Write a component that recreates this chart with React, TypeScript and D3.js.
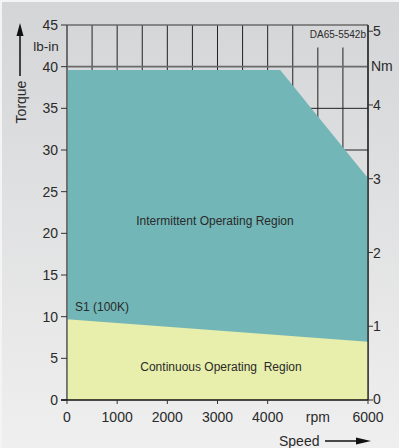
import * as d3 from "d3";

// Torque-speed curve, values
const speedTicks = [0, 1000, 2000, 3000, 4000, 6000];
const torqueTicks = [0, 5, 10, 15, 20, 25, 30, 35, 40, 45];
const nmTicks = [0, 1, 2, 3, 4, 5];
const gridSpeeds = d3.range(0, 6001, 500);
const gridTorques = [5, 10, 15, 20, 25, 30, 35];

const intermittentSpeed = [0, 4250, 6000];
const intermittentTorque = [39.6, 39.6, 26.6];
const continuousSpeed = [0, 6000];
const continuousTorque = [9.7, 7.0];

const LBIN_PER_NM = 8.8507;

export default function App() {
	const W = 399, H = 448;
	const font = "'Liberation Sans', Arial, sans-serif";

	const x = d3.scaleLinear().domain([0, 6000]).range([67, 368]);
	const y = d3.scaleLinear().domain([0, 45]).range([400, 25]);
	const yNm = (v: number) => y(v * LBIN_PER_NM);

	const line = d3.line<[number, number]>()
		.x(d => x(d[0]))
		.y(d => y(d[1]));

	const interPts: [number, number][] = [
		[0, 0],
		...intermittentSpeed.map((s, i) => [s, intermittentTorque[i]] as [number, number]),
		[6000, 0],
	];
	const contPts: [number, number][] = [
		[0, 0],
		...continuousSpeed.map((s, i) => [s, continuousTorque[i]] as [number, number]),
		[6000, 0],
	];

	return (
		<svg width={W} height={H} style={{ position: "absolute", left: 0, top: 0 }} fontFamily={font}>
			<defs>
				<linearGradient id="bg" x1="0" y1="0" x2="0" y2="1">
					<stop offset="0" stopColor="#d4d5d7" />
					<stop offset="1" stopColor="#efefef" />
				</linearGradient>
			</defs>
			<rect x={0} y={0} width={W} height={H} fill="#f4f4f4" />
			<rect x={2} y={2} width={W - 2} height={H - 2} fill="url(#bg)" />

			{/* grid (shows only where no region fill covers it) */}
			{gridSpeeds.map(s => (
				<line key={"gx" + s} x1={x(s)} x2={x(s)}
					y1={s >= 5000 && s < 6000 ? y(42.3) : y(45)} y2={y(0)}
					stroke="#222" strokeWidth={1} />
			))}
			{gridTorques.map(t => (
				<line key={"gy" + t} x1={x(0)} x2={x(6000)} y1={y(t)} y2={y(t)}
					stroke="#222" strokeWidth={1} />
			))}
			{[40, 45].map(t => (
				<line key={"gm" + t} x1={x(0)} x2={x(6000)} y1={y(t)} y2={y(t)}
					stroke="#6a6a6a" strokeWidth={1.6} />
			))}

			{/* regions */}
			<path d={line(interPts)!} fill="#72b6b7" />
			<path d={line(contPts)!} fill="#e8eeac" />

			{/* left axis */}
			<line x1={x(0)} x2={x(0)} y1={y(45)} y2={y(0)} stroke="#6a6a6a" strokeWidth={1.6} />
			{torqueTicks.map(t => (
				<g key={"ty" + t}>
					<line x1={x(0) - 6} x2={x(0)} y1={y(t)} y2={y(t)} stroke="#333" strokeWidth={1} />
					<text x={x(0) - 9} y={y(t)} dy="0.36em" textAnchor="end" fontSize={14} fill="#2a2a2a">{t}</text>
				</g>
			))}
			<text x={46} y={46} textAnchor="middle" dy="0.36em" fontSize={13.5} fill="#2a2a2a">lb-in</text>

			{/* right axis (Nm) */}
			<line x1={x(6000)} x2={x(6000)} y1={y(45)} y2={y(0)} stroke="#222" strokeWidth={1.3} />
			{nmTicks.map(t => (
				<g key={"nm" + t}>
					<line x1={x(6000)} x2={x(6000) + 5} y1={yNm(t)} y2={yNm(t)} stroke="#333" strokeWidth={1} />
					<text x={x(6000) + 5} y={yNm(t) - (t === 0 ? 1 : 0)} dy="0.36em" fontSize={14} fill="#2a2a2a">{t}</text>
				</g>
			))}
			<text x={371} y={66} dy="0.36em" fontSize={14} fill="#2a2a2a">Nm</text>

			{/* bottom axis */}
			<line x1={x(0) - 6} x2={x(6000)} y1={y(0)} y2={y(0)} stroke="#111" strokeWidth={1.5} />
			{speedTicks.map(s => (
				<g key={"sx" + s}>
					<line x1={x(s)} x2={x(s)} y1={y(0)} y2={y(0) + 4} stroke="#333" strokeWidth={1} />
					<text x={x(s)} y={422} textAnchor="middle" fontSize={14} fill="#2a2a2a">{s}</text>
				</g>
			))}
			<text x={x(5000)} y={422} textAnchor="middle" fontSize={14} fill="#2a2a2a">rpm</text>

			{/* axis titles */}
			<text transform="translate(26,102) rotate(-90)" textAnchor="middle" fontSize={14} fill="#2a2a2a">Torque</text>
			<line x1={20} x2={20} y1={76} y2={34} stroke="#111" strokeWidth={1.5} />
			<path d="M20,23 L16.5,36 L23.5,36 Z" fill="#111" />
			<text x={279} y={446} fontSize={14} fill="#2a2a2a">Speed</text>
			<line x1={325} x2={360} y1={441} y2={441} stroke="#111" strokeWidth={1.5} />
			<path d="M371,441 L356,437.5 L356,444.5 Z" fill="#111" />

			{/* annotations */}
			<text x={366} y={38} textAnchor="end" fontSize={10} fill="#2a2a2a">DA65-5542b</text>
			<text x={75} y={311} fontSize={12} fill="#2a2a2a">S1 (100K)</text>
			<text x={215} y={225} textAnchor="middle" fontSize={12} fill="#2a2a2a">Intermittent Operating Region</text>
			<text x={221} y={371} textAnchor="middle" fontSize={12} fill="#2a2a2a" style={{ whiteSpace: "pre" }}>Continuous Operating  Region</text>
		</svg>
	);
}
